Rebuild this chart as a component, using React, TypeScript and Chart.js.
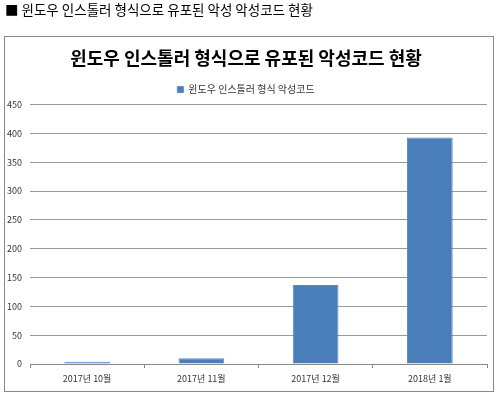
import React, { useEffect, useRef } from "react";
import { Chart, registerables } from "chart.js";
Chart.register(...registerables);

const pageTitle = "■ 윈도우 인스톨러 형식으로 유포된 악성 악성코드 현황";
const chartTitle = "윈도우 인스톨러 형식으로 유포된 악성코드 현황";
const seriesName = "윈도우 인스톨러 형식 악성코드";
const categories = ["2017년 10월", "2017년 11월", "2017년 12월", "2018년 1월"];
const values = [4, 10, 137, 393];
const yMin = 0;
const yMax = 450;
const yStep = 50;

const FONT = "'Noto Sans CJK KR', 'Noto Sans', sans-serif";

export default function App() {
  const ref = useRef<HTMLCanvasElement | null>(null);
  useEffect(() => {
    if (!ref.current) return;
    const chart = new Chart(ref.current, {
      type: "bar",
      data: {
        labels: categories,
        datasets: [
          {
            label: seriesName,
            data: values,
            backgroundColor: "#4a7ebb",
            borderColor: "#5a8cc8",
            borderWidth: 1,
            barPercentage: 0.4,
            categoryPercentage: 1,
          },
        ],
      },
      options: {
        responsive: false,
        animation: false,
        layout: { padding: { left: 0, right: 6, top: 0, bottom: 0 } },
        plugins: {
          title: {
            display: true,
            text: chartTitle,
            color: "#000",
            font: { family: FONT, size: 18, weight: "bold" },
            padding: { top: 10, bottom: 2 },
          },
          legend: {
            display: true,
            position: "top",
            labels: {
              color: "#333",
              font: { family: FONT, size: 10 },
              boxWidth: 6,
              boxHeight: 6,
              padding: 14,
            },
          },
          tooltip: { enabled: false },
        },
        scales: {
          x: {
            grid: {
              display: true,
              drawOnChartArea: false,
              drawTicks: true,
              tickLength: 4,
              color: "#888",
            },
            border: { display: true, color: "#888" },
            ticks: {
              color: "#333",
              font: { family: FONT, size: 9 },
              padding: 5,
              maxRotation: 0,
            },
            afterFit: (s: any) => {
              s.height = 27;
            },
          },
          y: {
            min: yMin,
            max: yMax,
            ticks: {
              stepSize: yStep,
              color: "#333",
              font: { family: FONT, size: 9 },
              padding: 8,
            },
            grid: { color: "#999", drawTicks: false },
            border: { display: false },
            afterFit: (s: any) => {
              s.width = 25;
            },
          },
        },
      },
    });
    return () => chart.destroy();
  }, []);

  return (
    <div
      style={{
        position: "fixed",
        left: 0,
        top: 0,
        width: 500,
        height: 397,
        background: "#fff",
        fontFamily: FONT,
      }}
    >
      <div
        style={{
          position: "absolute",
          left: 5,
          top: 1,
          fontSize: 13.5,
          lineHeight: "16px",
          color: "#000",
          whiteSpace: "nowrap",
        }}
      >
        {pageTitle}
      </div>
      <div
        style={{
          position: "absolute",
          left: 4,
          top: 36,
          width: 490,
          height: 356,
          boxSizing: "border-box",
          border: "1px solid #888",
        }}
      >
        <canvas ref={ref} width={488} height={354} style={{ display: "block" }} />
      </div>
    </div>
  );
}
